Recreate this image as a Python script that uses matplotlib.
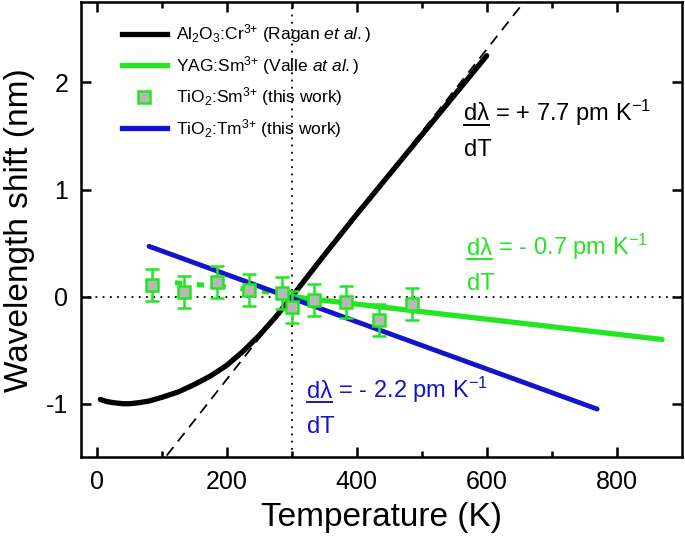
import matplotlib
matplotlib.use("Agg")
import matplotlib.pyplot as plt
from matplotlib.lines import Line2D

plt.rcParams['font.family'] = ['Liberation Sans Narrow', 'Liberation Sans', 'DejaVu Sans']
plt.rcParams['mathtext.fontset'] = 'custom'
plt.rcParams['mathtext.rm'] = 'Liberation Sans'
plt.rcParams['mathtext.it'] = 'Liberation Sans:italic'
plt.rcParams['axes.unicode_minus'] = False

GREEN = '#22e622'
BLUE = '#1414cc'

# Al2O3:Cr3+ (Ragan et al.)
t_ruby = [5, 15, 25, 40, 50, 65, 80, 100, 125, 150, 175, 200, 225, 250, 275, 300,
          350, 400, 450, 500, 550, 600]
s_ruby = [-0.96, -0.98, -0.99, -1.0, -1.0, -0.99, -0.975, -0.94, -0.89, -0.82, -0.74, -0.64,
          -0.51, -0.36, -0.19, 0.0, 0.39, 0.77, 1.14, 1.51, 1.88, 2.25]

# tangent at 300 K, 7.7 pm/K
t_tan = [90, 660]
slope_ruby = 0.0077

# YAG:Sm3+ (Valle at al.)
t_yag_low = [120, 160, 200, 240, 280, 300]
s_yag_low = [0.13, 0.11, 0.09, 0.06, 0.03, 0.0]
t_yag = [300, 870]
s_yag = [0.0, -0.40]

# TiO2:Sm3+ (this work)
t_sm = [85, 134, 184, 234, 285, 300, 334, 383, 434, 485]
s_sm = [0.11, 0.04, 0.14, 0.06, 0.03, -0.10, -0.03, -0.05, -0.22, -0.07]
e_sm = [0.15, 0.15, 0.15, 0.15, 0.15, 0.15, 0.15, 0.15, 0.15, 0.15]

# TiO2:Tm3+ (this work)
t_tm = [80, 770]
s_tm = [0.47, -1.05]

fig = plt.figure(figsize=(6.85, 5.45), dpi=100)
ax = fig.add_axes([0.118, 0.161, 0.877, 0.835])

ax.axhline(0, color='black', lw=1.3, ls=(0, (1, 3)), zorder=1)
ax.axvline(300, color='black', lw=1.3, ls=(0, (1, 3)), zorder=1)

ax.plot(t_tan, [slope_ruby * (t - 300) for t in t_tan], color='black', lw=1.3, ls=(0, (6, 4)), zorder=2)
ax.plot(t_ruby, s_ruby, color='black', lw=3.8, solid_capstyle='round', solid_joinstyle='round', zorder=3)
ax.plot(t_yag_low, s_yag_low, color=GREEN, lw=3.5, ls=(0, (1.5, 3)), zorder=3)
ax.plot(t_yag, s_yag, color=GREEN, lw=3.8, solid_capstyle='round', zorder=3)
ax.plot(t_tm, s_tm, color=BLUE, lw=3.5, solid_capstyle='round', zorder=3)
ax.errorbar(t_sm, s_sm, yerr=e_sm, fmt='s', color=GREEN, ms=8, mfc='#b8b8b8', mec=GREEN,
            mew=1.8, elinewidth=1.8, capsize=5, capthick=1.8, zorder=4)

ax.set_xlim(-25, 900)
ax.set_ylim(-1.5, 2.75)
ax.set_xticks([0, 200, 400, 600, 800])
ax.set_xticks([100, 300, 500, 700], minor=True)
ax.set_yticks([-1, 0, 1, 2])
ax.tick_params(which='both', direction='in', top=True, right=True, width=1.8, labelsize=18)
ax.tick_params(which='major', length=7, pad=9)
ax.tick_params(which='minor', length=4)
for sp in ax.spines.values():
    sp.set_linewidth(1.8)

ax.set_xlabel('Temperature (K)', fontsize=24, labelpad=6)
ax.set_ylabel('Wavelength shift (nm)', fontsize=24, labelpad=8)

handles = [
    Line2D([], [], color='black', lw=3.8),
    Line2D([], [], color=GREEN, lw=3.8),
    Line2D([], [], ls='none', marker='s', ms=8, mfc='#b8b8b8', mec=GREEN, mew=1.8),
    Line2D([], [], color=BLUE, lw=3.8),
]
labels = [
    r'Al$_2$O$_3$:Cr$^{3{+}}$ (Ragan $\it{et\ al.}$)',
    r'YAG:Sm$^{3{+}}$ (Valle $\it{at\ al.}$)',
    r'TiO$_2$:Sm$^{3{+}}$ (this work)',
    r'TiO$_2$:Tm$^{3{+}}$ (this work)',
]
ax.legend(handles, labels, loc='upper left', bbox_to_anchor=(0.042, 0.99), frameon=False,
          fontsize=12.5, handlelength=2.6, handletextpad=0.55, labelspacing=0.5)

fig.canvas.draw()
renderer = fig.canvas.get_renderer()


def slope_note(x, y, value, color):
    top = ax.text(x, y, 'd\u03bb', color=color, fontsize=17, transform=ax.transAxes, va='baseline')
    bb = top.get_window_extent(renderer).transformed(ax.transAxes.inverted())
    ax.text(bb.x1, y, ' = ' + value + ' pm K$^{-1}$', color=color, fontsize=17,
            transform=ax.transAxes, va='baseline')
    uy = y - 0.009
    ax.plot([bb.x0, bb.x1], [uy, uy], color=color, lw=1.4, transform=ax.transAxes, clip_on=False)
    ax.text(x, y - 0.077, 'dT', color=color, fontsize=17, transform=ax.transAxes, va='baseline')


slope_note(0.637, 0.74, '+ 7.7', 'black')
slope_note(0.642, 0.444, '- 0.7', GREEN)
slope_note(0.377, 0.13, '- 2.2', BLUE)

fig.savefig('out.png', dpi=100)
